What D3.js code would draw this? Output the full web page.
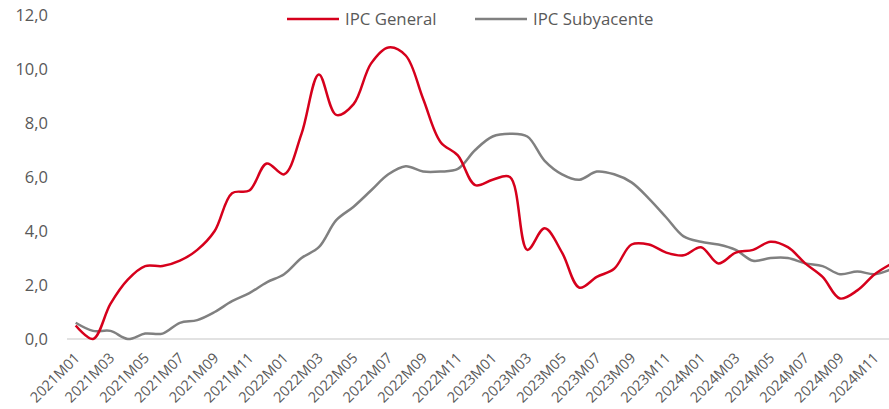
<!DOCTYPE html>
<html>
<head>
<meta charset="utf-8">
<script src="https://cdn.jsdelivr.net/npm/d3@7"></script>
<style>
  body { margin: 0; background: #fff; }
  text { font-family: "Open Sans", "Noto Sans", sans-serif; fill: #595959; }
</style>
</head>
<body>
<div id="chart"></div>
<script>
// months 2021M01 .. 2024M12
var years = [2021, 2022, 2023, 2024];
var months = [];
years.forEach(function(y) {
    for (var m = 1; m <= 12; m++) months.push(y + "M" + (m < 10 ? "0" + m : m));
});

var ipcGeneral = [
    0.5, 0.0, 1.3, 2.2, 2.7, 2.7, 2.9, 3.3, 4.0, 5.4, 5.5, 6.5,
    6.1, 7.6, 9.8, 8.3, 8.7, 10.2, 10.8, 10.5, 8.9, 7.3, 6.8, 5.7,
    5.9, 6.0, 3.3, 4.1, 3.2, 1.9, 2.3, 2.6, 3.5, 3.5, 3.2, 3.1,
    3.4, 2.8, 3.2, 3.3, 3.6, 3.4, 2.8, 2.3, 1.5, 1.8, 2.4, 2.8
];
var ipcSubyacente = [
    0.6, 0.3, 0.3, 0.0, 0.2, 0.2, 0.6, 0.7, 1.0, 1.4, 1.7, 2.1,
    2.4, 3.0, 3.4, 4.4, 4.9, 5.5, 6.1, 6.4, 6.2, 6.2, 6.3, 7.0,
    7.5, 7.6, 7.5, 6.6, 6.1, 5.9, 6.2, 6.1, 5.8, 5.2, 4.5, 3.8,
    3.6, 3.5, 3.3, 2.9, 3.0, 3.0, 2.8, 2.7, 2.4, 2.5, 2.4, 2.6
];
var yTicks = [0, 2, 4, 6, 8, 10, 12];
var seriesNames = ["IPC General", "IPC Subyacente"];

var svgWidth = 889;
var svgHeight = 409;

var svg = d3.select("#chart")
    .append("svg")
    .attr("width", svgWidth)
    .attr("height", svgHeight);

var xScale = d3.scaleBand()
    .domain(months)
    .range([67, 67 + 48 * 17.37]);

var yScale = d3.scaleLinear()
    .domain([0, 12])
    .range([339, 15]);

var fmt = function(d) { return d3.format(".1f")(d).replace(".", ","); };

// y labels
var leftAxis = d3.axisLeft(yScale).tickValues(yTicks).tickFormat(fmt).tickSize(0).tickPadding(0);
var yAxisG = svg.append("g")
    .attr("transform", "translate(48,0)")
    .call(leftAxis);
yAxisG.select(".domain").remove();
yAxisG.selectAll("text")
    .style("font-size", "16.5px")
    .attr("fill", "#595959");

// zero line
svg.append("line")
    .attr("x1", 67)
    .attr("x2", svgWidth)
    .attr("y1", yScale(0))
    .attr("y2", yScale(0))
    .attr("stroke", "#d9d9d9")
    .attr("stroke-width", 1.5);

// x labels every 2 months
var xLabels = months.filter(function(d, i) { return i % 2 === 0; });
svg.selectAll(".xlab")
    .data(xLabels)
    .enter()
    .append("text")
    .attr("class", "xlab")
    .attr("transform", d => `translate(${xScale(d) + xScale.bandwidth() / 2 + 5}, 359) rotate(-45)`)
    .attr("text-anchor", "end")
    .style("font-size", "14.5px")
    .text(d => d);

var cx = function(i) { return xScale(months[i]) + xScale.bandwidth() / 2; };

var line = d3.line()
    .x((d, i) => cx(i))
    .y(d => yScale(d))
    .curve(d3.curveCatmullRom.alpha(0.5));

svg.append("path")
    .datum(ipcSubyacente)
    .attr("d", line)
    .attr("fill", "none")
    .attr("stroke", "#808080")
    .attr("stroke-width", 2.5);

svg.append("path")
    .datum(ipcGeneral)
    .attr("d", line)
    .attr("fill", "none")
    .attr("stroke", "#d6001c")
    .attr("stroke-width", 2.5);

// legend
var legendColors = ["#d6001c", "#808080"];
var legendX = [287, 475];
var legend = svg.selectAll(".leg")
    .data(seriesNames)
    .enter()
    .append("g")
    .attr("class", "leg")
    .attr("transform", (d, i) => `translate(${legendX[i]}, 19)`);
legend.append("line")
    .attr("x1", 0)
    .attr("x2", 52)
    .attr("stroke", (d, i) => legendColors[i])
    .attr("stroke-width", 2.5);
legend.append("text")
    .attr("x", 58)
    .attr("dy", "0.35em")
    .style("font-size", "16.8px")
    .text(d => d);
</script>
</body>
</html>
